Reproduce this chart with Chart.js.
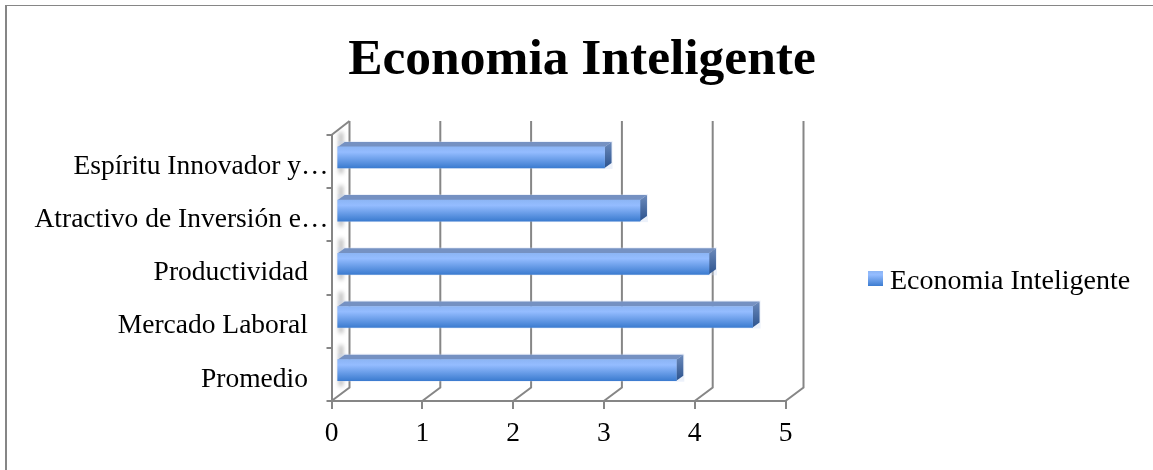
<!DOCTYPE html>
<html>
<head>
<meta charset="utf-8">
<title>Economia Inteligente</title>
<script src="https://cdn.jsdelivr.net/npm/chart.js@4"></script>
<style>
  html, body { margin: 0; padding: 0; background: #fff; }
  #wrap { position: absolute; left: 0; top: 0; width: 1153px; height: 470px; }
</style>
</head>
<body>
<div id="wrap"><canvas id="chart"></canvas></div>
<script>
const chartTitle = 'Economia Inteligente';
const seriesName = 'Economia Inteligente';
const categories = ['Espíritu Innovador y…', 'Atractivo de Inversión e…', 'Productividad   ', 'Mercado Laboral   ', 'Promedio   '];
const values = [2.95, 3.34, 4.1, 4.58, 3.74];
const xTicks = [0, 1, 2, 3, 4, 5];

const FONT = 'Liberation Serif';
const GREY = '#868686';
const BAR_H = 21;

function barGradient(ctx, top, h) {
    const g = ctx.createLinearGradient(0, top, 0, top + h);
    g.addColorStop(0, '#8cb5f5');
    g.addColorStop(0.25, '#94bcff');
    g.addColorStop(1, '#3c7cd0');
    return g;
}

/* fake 3d walls and bar faces */
const depthPlugin = {
    id: 'depth',
    beforeLayout(chart) {
        const lg = chart.legend;
        if (!lg._fitWrapped) {
            const fit = lg.fit;
            lg.fit = function () { fit.call(this); this.width = 367.5; };
            lg._fitWrapped = true;
        }
    },
    afterLayout(chart) {
        const lg = chart.legend;
        lg.left = 868; lg.right = 1140; lg.top = 268; lg.bottom = 298;
        // category labels sit a little below the tick marks
        chart.scales.y.getLabelItems().forEach(item => { item.options.translation[1] += 5; });
    },
    beforeDraw(chart) {
        const c = chart.ctx;
        c.save();
        c.fillStyle = '#fff';
        c.fillRect(0, 0, chart.width, chart.height);
        c.fillStyle = GREY;
        c.fillRect(5, 5, chart.width - 5, 1);
        c.fillRect(5, 5, 2, chart.height - 5);
        c.restore();
    },
    beforeDatasetsDraw(chart) {
        const c = chart.ctx, xs = chart.scales.x, ys = chart.scales.y;
        const top = chart.chartArea.top, bottom = chart.chartArea.bottom;
        c.save();
        c.strokeStyle = GREY;
        c.lineWidth = 2;
        xTicks.forEach(t => {
            const px = xs.getPixelForValue(t);
            c.beginPath();
            c.moveTo(px, bottom);
            c.lineTo(px + 18, bottom - 13.5);
            c.lineTo(px + 18, top - 14);
            c.stroke();
        });
        c.beginPath();
        c.moveTo(xs.left, top);
        c.lineTo(xs.left + 18, top - 14);
        c.stroke();
        c.restore();

        // soft shadow where each bar meets the wall
        c.save();
        c.filter = 'blur(2px)';
        c.fillStyle = 'rgba(120,120,120,0.55)';
        categories.forEach((_, i) => {
            const y = ys.getPixelForValue(i) - 4.2;
            c.fillRect(339, y - 25, 4, 41);
        });
        c.restore();

        c.save();
        c.translate(5.2, -4.2);
        chart.getDatasetMeta(0).data.forEach(bar => {
            const t = bar.y - BAR_H / 2, b = bar.y + BAR_H / 2;
            c.fillStyle = 'rgba(200,215,240,0.35)';
            c.fillRect(bar.base, t - 6, bar.x - bar.base + 8, BAR_H + 7);
            c.fillStyle = '#7591c2';
            c.beginPath();
            c.moveTo(bar.base, t);
            c.lineTo(bar.base + 7, t - 5);
            c.lineTo(bar.x + 7, t - 5);
            c.lineTo(bar.x, t);
            c.closePath();
            c.fill();
            const side = c.createLinearGradient(0, t - 5, 0, b);
            side.addColorStop(0, '#6c8abb');
            side.addColorStop(1, '#2c538e');
            c.fillStyle = side;
            c.beginPath();
            c.moveTo(bar.x, t);
            c.lineTo(bar.x + 7, t - 5);
            c.lineTo(bar.x + 7, b - 5);
            c.lineTo(bar.x, b);
            c.closePath();
            c.fill();
        });
    },
    afterDatasetsDraw(chart) {
        chart.ctx.restore();
    },
    afterDraw(chart) {
        // legend swatch is wider than the gap the legend leaves before its text
        const c = chart.ctx, box = chart.legend.legendHitBoxes[0];
        c.save();
        c.fillStyle = barGradient(c, 271, 15);
        c.fillRect(box.left, 271, 15, 15);
        c.restore();
    }
};

new Chart(document.getElementById('chart'), {
    type: 'bar',
    plugins: [depthPlugin],
    data: {
        labels: categories,
        datasets: [{
            label: seriesName,
            data: values,
            barThickness: BAR_H,
            clip: false,
            backgroundColor: function (ctx) {
                const ys = ctx.chart.scales.y;
                if (!ys || ctx.dataIndex === undefined) return '#6a9ee8';
                return barGradient(ctx.chart.ctx, ys.getPixelForValue(ctx.dataIndex) - BAR_H / 2, BAR_H);
            }
        }]
    },
    options: {
        indexAxis: 'y',
        responsive: true,
        maintainAspectRatio: false,
        animation: false,
        layout: { padding: { left: 11, right: 0, top: 0, bottom: 0 } },
        plugins: {
            tooltip: { enabled: false },
            title: {
                display: true,
                text: chartTitle,
                color: '#000',
                font: { family: FONT, size: 51.5, weight: 'bold', lineHeight: 1.2 },
                padding: { top: 30, bottom: 43.2 }
            },
            legend: {
                position: 'right',
                align: 'start',
                labels: {
                    padding: 0,
                    boxWidth: 8,
                    boxHeight: 11,
                    color: '#000',
                    font: { family: FONT, size: 28 },
                    generateLabels(chart) {
                        return [{
                            text: seriesName,
                            fillStyle: 'transparent',
                            strokeStyle: 'transparent',
                            lineWidth: 0,
                            datasetIndex: 0
                        }];
                    }
                }
            }
        },
        scales: {
            x: {
                min: 0,
                max: 5,
                ticks: { stepSize: 1, color: '#000', padding: 8, maxRotation: 0, font: { family: FONT, size: 27.5 } },
                grid: { drawOnChartArea: false, color: GREY, tickLength: 8, lineWidth: 2 },
                border: { color: GREY, width: 2 },
                afterFit(scale) { scale.height = 69; }
            },
            y: {
                ticks: { color: '#000', padding: -2, autoSkip: false, font: { family: FONT, size: 27.5 } },
                grid: { drawOnChartArea: false, color: GREY, tickLength: 5, lineWidth: 2 },
                border: { color: GREY, width: 2 },
                afterFit(scale) { scale.width = 320.5; }
            }
        }
    }
});
</script>
</body>
</html>
